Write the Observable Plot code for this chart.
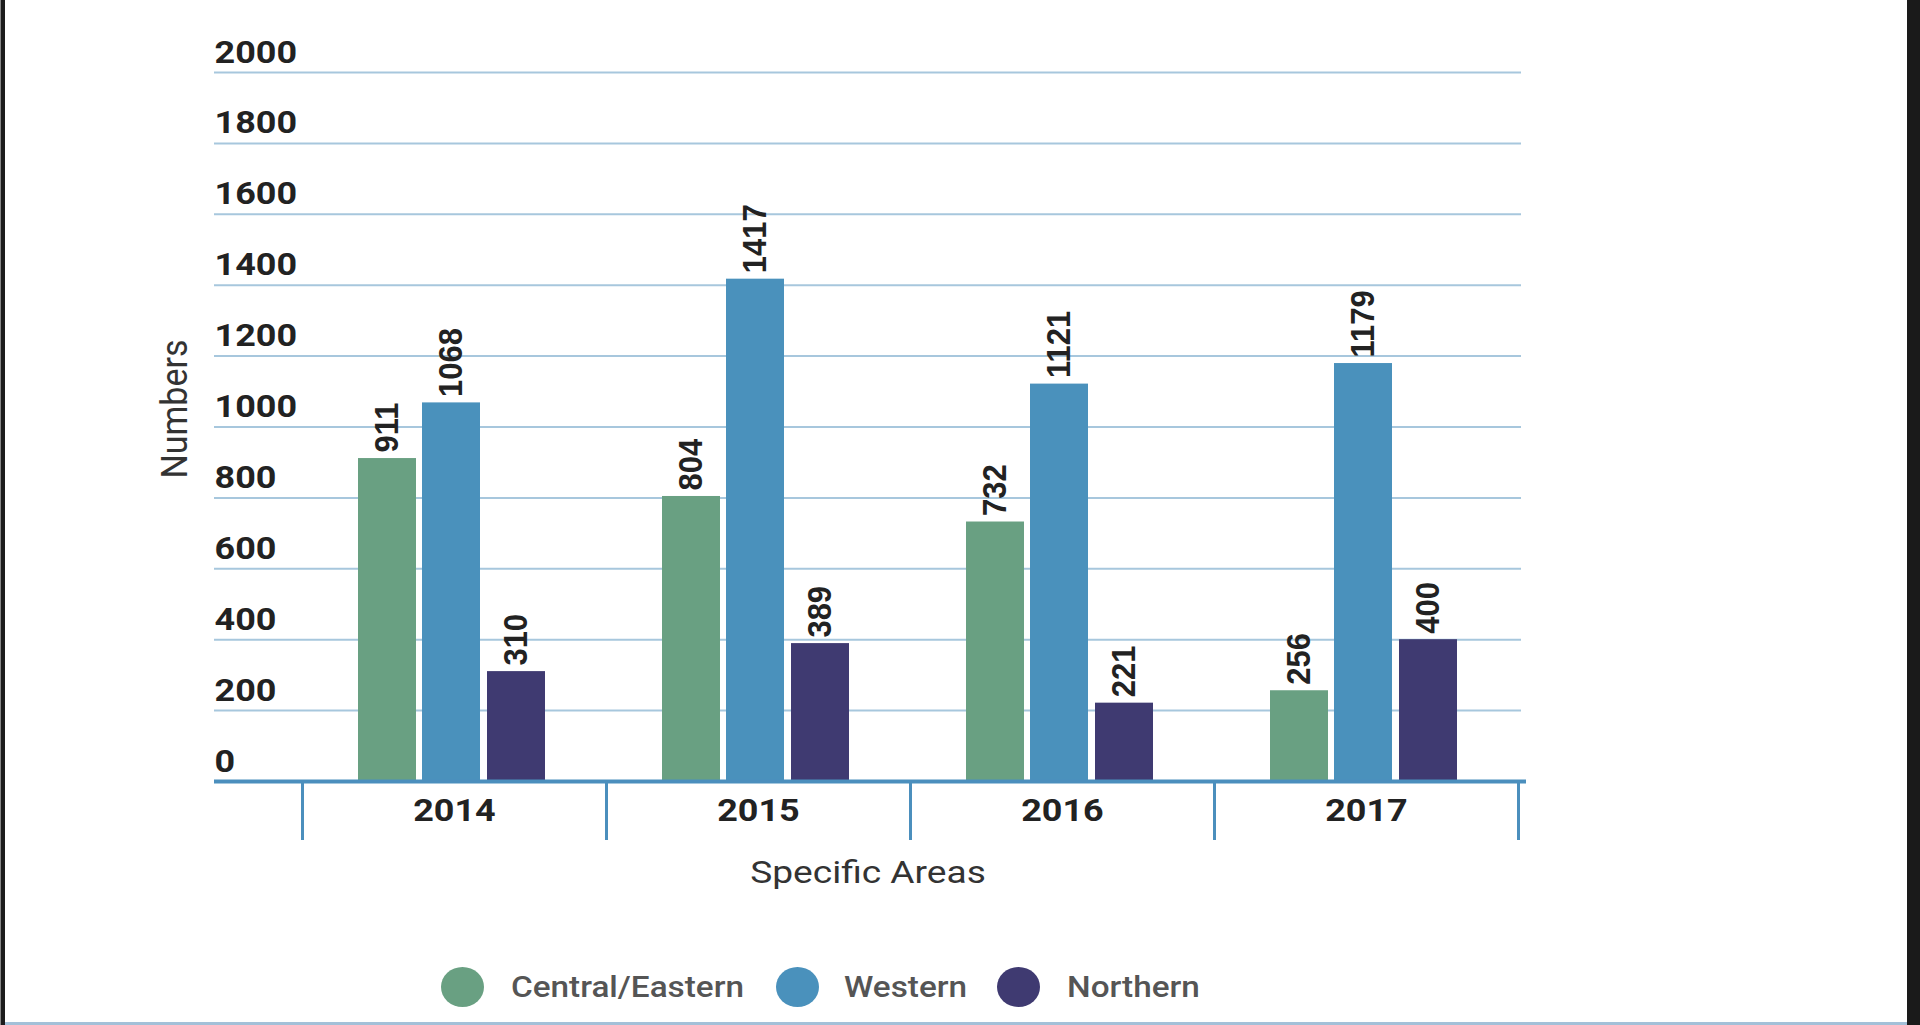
<!DOCTYPE html>
<html>
<head>
<meta charset="utf-8">
<script src="https://cdn.jsdelivr.net/npm/d3@7"></script>
<script src="https://cdn.jsdelivr.net/npm/@observablehq/plot@0.6"></script>
<style>
html, body { margin: 0; padding: 0; background: #fff; }
#page { position: relative; width: 1920px; height: 1025px; overflow: hidden; background: #fff; }
#chart svg { display: block; }
.border { position: absolute; }
#legend { position: absolute; left: 0; top: 940px; width: 1920px; height: 85px; font-family: Roboto, sans-serif; }
.sw { position: absolute; border-radius: 50%; }
.lt { position: absolute; font-size: 30px; font-weight: 500; color: #555; line-height: 1; white-space: nowrap; transform-origin: left center; transform: scaleX(1.11); }
</style>
</head>
<body>
<div id="page">
  <div id="chart"></div>
  <div id="legend"></div>
  <div class="border" style="left:0;top:0;width:1px;height:1025px;background:#888"></div>
  <div class="border" style="left:1px;top:0;width:4px;height:1025px;background:#1c1c1c"></div>
  <div class="border" style="left:1907px;top:0;width:13px;height:1025px;background:#1a1a1a"></div>
  <div class="border" style="left:5px;top:1022px;width:1902px;height:3px;background:#a3c0d8"></div>
</div>
<script>
// ---- data ----
const years = ["2014", "2015", "2016", "2017"];
const seriesNames = ["Central/Eastern", "Western", "Northern"];
const central = [911, 804, 732, 256];
const western = [1068, 1417, 1121, 1179];
const northern = [310, 389, 221, 400];
const yTicks = [0, 200, 400, 600, 800, 1000, 1200, 1400, 1600, 1800, 2000];

// ---- styles / layout ----
const seriesColors = ["#69a082", "#4a91bc", "#3f3a71"];
const barOffsets = [-67, -3, 62];
const legendCircleX = [462, 797, 1018];
const legendTextX = [511, 844, 1067];
const STRETCH = 1.16;       // horizontal stretch of the original artwork's text
const STRETCH_ROT = 1.08;

const seriesValues = [central, western, northern];
const tables = seriesValues.map(vals => years.map((year, i) => ({year, value: vals[i]})));

const marks = [
  Plot.ruleY(yTicks, {stroke: "#a7c7dd", strokeWidth: 2}),
  Plot.text(yTicks, {
    y: d => d, text: d => String(d), frameAnchor: "left", textAnchor: "start",
    lineAnchor: "bottom", dy: -10, fontSize: 31, fontWeight: 700, fill: "#222", fontFamily: "Roboto"
  }),
  ...tables.flatMap((tab, k) => [
    Plot.barY(tab, {x: "year", y: "value", fill: seriesColors[k], dx: barOffsets[k], insetLeft: 123, insetRight: 123}),
    Plot.text(tab, {
      x: "year", y: "value", text: d => String(d.value), dx: barOffsets[k], dy: -6,
      rotate: -90, textAnchor: "start", lineAnchor: "middle",
      fontSize: 31, fontWeight: 700, fontFamily: "Liberation Sans", fill: "#222"
    })
  ]),
  Plot.ruleY([0], {stroke: "#4b8fbd", strokeWidth: 4, insetRight: -5}),
  Plot.axisX({tickSize: 59, dx: -152, tickFormat: () => "", stroke: "#4b8fbd", strokeWidth: 3, label: null}),
  Plot.axisX([years[years.length - 1]], {tickSize: 59, dx: 152, tickFormat: () => "", stroke: "#4b8fbd", strokeWidth: 3, label: null}),
  Plot.text(years, {
    x: d => d, text: d => d, frameAnchor: "bottom", dy: 30, lineAnchor: "middle",
    fontSize: 31, fontWeight: 700, fill: "#222", fontFamily: "Roboto"
  }),
  Plot.text(["Specific Areas"], {
    text: d => d, frameAnchor: "bottom", dy: 91, lineAnchor: "middle", textAnchor: "middle",
    fontSize: 32, fontWeight: 400, fill: "#333", fontFamily: "Roboto"
  }),
  Plot.text(["Numbers"], {
    text: d => d, frameAnchor: "left", dx: -39, dy: -18, rotate: -90, lineAnchor: "middle", textAnchor: "middle",
    fontSize: 34, fontWeight: 400, fill: "#333", fontFamily: "Roboto"
  })
];

const chart = Plot.plot({
  width: 1920,
  height: 940,
  marginLeft: 214,
  marginRight: 399,
  marginTop: 72,
  marginBottom: 159,
  x: {type: "band", domain: years, range: [302, 1518], padding: 0, label: null},
  y: {domain: [0, 2000], axis: null, label: null},
  style: {background: "#fff", overflow: "visible"},
  marks
});

// widen text horizontally like the source artwork
d3.select(chart).selectAll("text").each(function() {
  const t = this.getAttribute("transform") || "";
  const x = +this.getAttribute("x") || 0;
  const y = +this.getAttribute("y") || 0;
  const rotated = /rotate/.test(t);
  const sc = rotated ? `scale(1,${STRETCH_ROT})` : `scale(${STRETCH},1)`;
  this.setAttribute("transform", `${t} translate(${x},${y}) ${sc} translate(${-x},${-y})`);
});

document.getElementById("chart").appendChild(chart);

// legend
const legend = document.getElementById("legend");
seriesNames.forEach((name, i) => {
  const c = document.createElement("div");
  c.className = "sw";
  c.style.left = (legendCircleX[i] - 21.5) + "px";
  c.style.top = (47 - 20) + "px";
  c.style.width = "43px";
  c.style.height = "40px";
  c.style.background = seriesColors[i];
  legend.appendChild(c);
  const t = document.createElement("div");
  t.className = "lt";
  t.style.left = legendTextX[i] + "px";
  t.style.top = "32px";
  t.textContent = name;
  legend.appendChild(t);
});
</script>
</body>
</html>
